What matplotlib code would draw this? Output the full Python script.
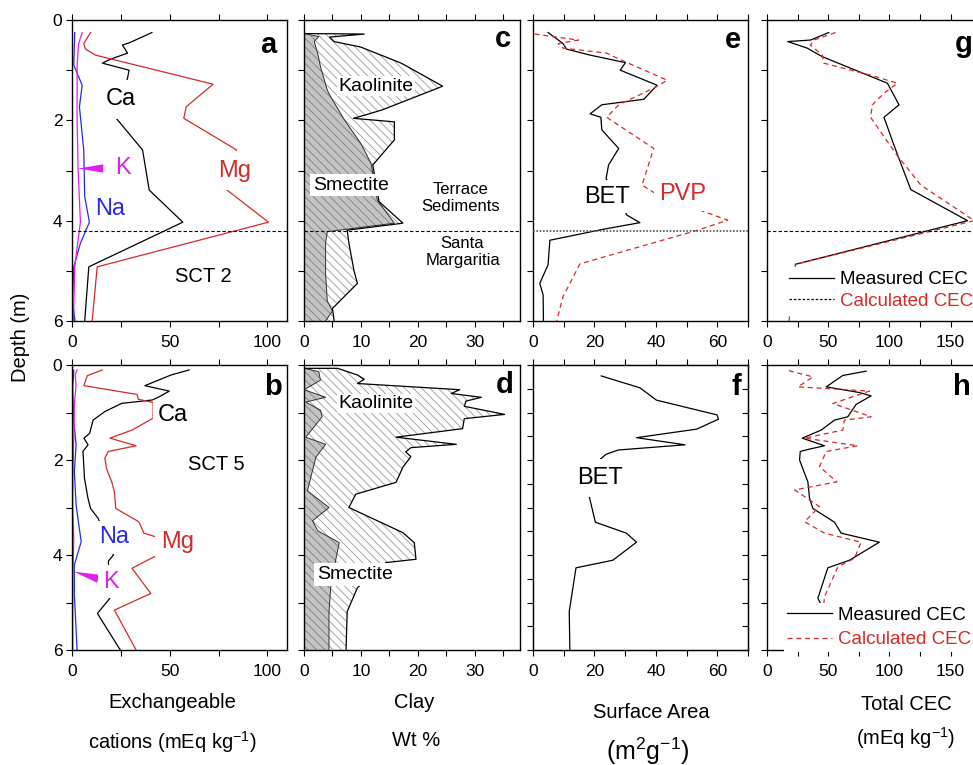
import numpy as np
import matplotlib.pyplot as plt
from matplotlib.ticker import MultipleLocator, FuncFormatter

plt.rcParams['font.family'] = ['Liberation Sans', 'DejaVu Sans']
plt.rcParams['mathtext.default'] = 'regular'
plt.rcParams['hatch.linewidth'] = 0.6

RED = '#d42a2a'
BLUE = '#2a2ae6'
MAG = '#dd22ee'

# ---- exchangeable cations, SCT 2 (depth m, mEq/kg)
a_ca_d = [0.25, 0.45, 0.50, 0.66, 0.78, 0.86, 1.00, 1.16, 1.93, 2.59, 3.39, 4.03, 4.92, 6.00]
a_ca_v = [40.9, 29.6, 25.8, 28.4, 19.8, 15.5, 29.2, 28.4, 22.0, 36.1, 39.5, 56.7, 8.6, 6.5]
a_mg_d = [0.25, 0.47, 0.58, 0.70, 1.28, 1.73, 1.96, 2.59, 3.38, 4.03, 4.92, 6.00]
a_mg_v = [9.5, 6.0, 6.9, 12.0, 72.2, 58.4, 57.2, 84.2, 79.0, 100.5, 12.9, 10.3]
a_na_d = [0.25, 0.90, 1.30, 1.73, 2.59, 3.52, 4.03, 4.45, 4.92, 5.58, 6.00]
a_na_v = [1.4, 0.9, 5.2, 3.8, 6.0, 6.5, 8.9, 4.3, 0.9, 0.3, 1.5]
a_k_d = [0.25, 0.47, 0.90, 2.00, 2.96, 4.03, 4.92, 6.00]
a_k_v = [5.2, 3.4, 2.6, 2.6, 3.1, 4.3, 1.4, 0.7]

# ---- exchangeable cations, SCT 5
b_ca_d = [0.105, 0.21, 0.435, 0.55, 0.66, 0.737, 0.807, 0.98, 1.16, 1.44, 1.54, 1.68, 1.82,
          2.39, 2.81, 3.02, 3.23, 4.00, 4.13, 4.91, 5.23, 6.00]
b_ca_v = [59.9, 50.7, 37.3, 49.8, 45.0, 41.1, 25.5, 16.8, 10.8, 9.0, 6.1, 8.2, 5.6,
          6.4, 8.2, 9.5, 13.4, 21.2, 18.6, 19.4, 13.0, 24.7]
b_mg_d = [0.105, 0.225, 0.435, 0.62, 0.72, 0.79, 1.12, 1.37, 1.54, 1.70, 1.82, 1.96, 2.18,
          2.46, 2.67, 3.02, 3.30, 3.54, 3.63, 4.00, 4.28, 4.81, 5.16, 6.00]
b_mg_v = [15.5, 7.8, 6.1, 33.3, 33.9, 41.5, 41.5, 30.7, 19.4, 32.8, 18.6, 16.8, 17.7,
          20.3, 21.7, 22.4, 34.2, 36.8, 43.8, 43.8, 30.7, 40.3, 21.7, 32.8]
b_na_d = [0.105, 0.49, 1.19, 1.68, 2.25, 2.95, 3.72, 4.21, 4.84, 6.00]
b_na_v = [0.9, 0.35, 0.9, 2.1, 1.2, 2.1, 4.7, 1.2, 1.2, 2.6]
b_k_d = [0.105, 0.21, 0.42, 0.84, 1.54, 2.25, 2.95, 3.65, 4.35, 5.05, 6.00]
b_k_v = [2.6, 1.6, 2.1, 1.2, 0.9, 0.5, 0.35, 0.9, 0.5, 0.35, 0.35]

# ---- clay wt %, SCT 2 (smectite and smectite + kaolinite)
c_sm_d = [0.27, 0.33, 0.43, 0.66, 0.93, 1.40, 1.53, 1.99, 2.46, 2.86, 3.59, 4.05, 4.22,
          4.45, 5.05, 5.60, 5.80, 6.00]
c_sm_v = [0.0, 2.6, 1.8, 2.4, 2.9, 4.1, 4.7, 7.1, 10.0, 11.8, 12.9, 15.9, 4.1,
          3.8, 3.8, 4.1, 5.0, 3.8]
c_tot_d = [0.27, 0.28, 0.34, 0.43, 0.54, 0.86, 1.32, 1.79, 1.89, 1.96, 2.03, 2.39, 2.89,
           3.62, 4.05, 4.19, 4.45, 5.00, 5.25, 5.75, 6.00]
c_tot_v = [0.0, 10.6, 4.5, 5.3, 10.0, 17.1, 24.4, 13.8, 10.9, 8.7, 15.9, 15.9, 12.1,
           13.2, 17.4, 7.6, 7.9, 8.8, 9.4, 5.0, 5.3]

# ---- clay wt %, SCT 5
d_sm_d = [0.07, 0.14, 0.32, 0.52, 0.68, 0.78, 0.95, 1.09, 1.52, 1.67, 1.94, 2.22, 2.65,
          3.00, 3.28, 3.49, 3.74, 4.09, 4.69, 5.19, 6.00]
d_sm_v = [0.0, 2.6, 2.9, 0.0, 3.8, 0.3, 2.9, 3.2, 0.3, 3.8, 2.1, 1.5, 0.6,
          4.4, 1.5, 2.4, 6.2, 5.6, 4.7, 4.4, 4.4]
d_tot_d = [0.07, 0.07, 0.21, 0.30, 0.39, 0.52, 0.60, 0.68, 0.76, 0.87, 1.04, 1.13, 1.34,
           1.52, 1.67, 1.74, 1.83, 1.93, 2.15, 2.47, 2.72, 3.00, 3.53, 3.74, 4.09, 4.16,
           4.69, 5.19, 6.00]
d_tot_v = [0.0, 5.9, 9.4, 10.6, 9.4, 27.4, 25.9, 31.2, 28.5, 28.2, 35.3, 28.2, 27.9,
           16.2, 26.8, 18.8, 17.9, 18.8, 17.4, 16.2, 9.1, 7.9, 17.4, 19.4, 19.7, 14.4,
           9.4, 7.6, 7.4]

# ---- surface area (m2/g)
e_bet_d = [0.25, 0.47, 0.58, 0.70, 0.85, 1.00, 1.30, 1.58, 1.69, 1.87, 1.94, 2.19, 2.56,
           2.89, 3.16, 3.89, 4.04, 4.17, 4.39, 4.88, 5.25, 5.48, 6.00]
e_bet_v = [4.9, 9.8, 10.9, 18.6, 30.1, 28.4, 40.4, 36.1, 22.4, 18.6, 22.1, 22.4, 27.9,
           24.6, 23.8, 30.6, 34.8, 23.0, 5.5, 4.9, 2.2, 3.3, 3.4]
e_pvp_d = [0.28, 0.40, 0.47, 0.56, 0.66, 0.76, 1.20, 1.34, 1.69, 1.94, 2.56, 3.29, 3.46,
           3.82, 3.99, 4.19, 4.86, 5.51, 6.00]
e_pvp_v = [0.5, 14.8, 8.2, 9.8, 24.0, 27.3, 43.7, 39.9, 27.9, 24.0, 39.3, 35.5, 39.9,
           55.7, 63.4, 53.6, 15.3, 9.8, 7.7]
f_bet_d = [0.23, 0.48, 0.74, 1.05, 1.14, 1.35, 1.53, 1.68, 1.79, 1.88, 2.00, 2.79, 3.31,
           3.54, 3.73, 4.11, 4.27, 5.19, 6.00]
f_bet_v = [22.2, 34.8, 40.2, 59.9, 60.4, 53.3, 33.7, 49.5, 27.7, 23.8, 21.6, 18.4, 20.3,
           30.4, 33.7, 26.0, 14.0, 11.8, 12.0]

# ---- total CEC (mEq/kg)
g_meas_d = [0.25, 0.40, 0.43, 0.56, 0.73, 1.26, 1.69, 1.94, 2.59, 3.38, 4.00, 4.87]
g_meas_v = [50.5, 35.5, 16.9, 32.8, 45.1, 98.4, 107.9, 95.6, 105.2, 117.5, 163.9, 23.2]
g_calc_d = [0.25, 0.40, 0.50, 0.70, 0.86, 1.10, 1.26, 1.46, 1.69, 1.94, 2.66, 3.29, 4.00,
            4.87, 6.00]
g_calc_v = [56.0, 38.3, 35.5, 45.1, 46.4, 84.7, 106.6, 95.6, 86.1, 84.7, 105.2, 125.7, 169.4,
            23.2, 18.0]
h_meas_d = [0.13, 0.22, 0.46, 0.58, 0.65, 0.83, 1.09, 1.16, 1.37, 1.54, 1.70, 1.77, 1.82,
            2.00, 2.46, 2.81, 3.02, 3.31, 3.54, 3.73, 4.11, 4.27, 4.91, 6.00]
h_meas_v = [81.0, 62.0, 48.4, 75.5, 85.1, 72.8, 66.0, 55.2, 44.3, 28.8, 47.0, 34.8, 27.2,
            26.6, 33.4, 34.8, 37.5, 55.2, 60.6, 91.8, 67.4, 49.7, 41.6, 62.5]
h_calc_d = [0.12, 0.25, 0.46, 0.55, 0.81, 1.09, 1.16, 1.37, 1.54, 1.70, 1.82, 2.14, 2.46,
            2.63, 2.98, 3.30, 3.54, 3.73, 4.07, 4.25, 4.88, 6.00]
h_calc_v = [17.9, 37.5, 25.3, 83.7, 53.8, 85.1, 63.3, 62.0, 30.7, 74.2, 48.4, 42.9, 57.1,
            22.6, 42.9, 30.7, 47.0, 76.9, 71.5, 57.9, 47.0, 42.9]

BOUNDARY = 4.2  # terrace sediments / Santa Margarita contact

W, H = 973, 765
fig = plt.figure(figsize=(W / 100, H / 100), dpi=100)


def add(cx, ry):
    x0, x1 = cx
    y0, y1 = ry
    return fig.add_axes([x0 / W, 1 - y1 / H, (x1 - x0) / W, (y1 - y0) / H])


def style(ax, xmax, major, minor, ylab=False):
    ax.set_xlim(0, xmax)
    ax.set_ylim(6, 0)
    ax.xaxis.set_major_locator(MultipleLocator(major))
    ax.xaxis.set_minor_locator(MultipleLocator(minor))
    ax.yaxis.set_major_locator(MultipleLocator(1))
    ax.yaxis.set_major_formatter(FuncFormatter(lambda v, p: '%d' % v if v % 2 == 0 else ''))
    ax.tick_params(which='both', top=True, direction='out', width=0.8, length=4,
                   labelsize=12.5, pad=3)
    ax.tick_params(axis='x', pad=6)
    if not ylab:
        ax.tick_params(labelleft=False)
    for s in ax.spines.values():
        s.set_linewidth(1.0)


def tag(ax, x, y, s, **kw):
    ax.text(x, y, s, ha='center', va='center', zorder=6, **kw)


def boxed(ax, x, y, s, size=17, color='k', pad=3):
    ax.text(x, y, s, ha='center', va='center', fontsize=size, color=color, zorder=5,
            bbox=dict(facecolor='white', edgecolor='none', pad=pad))


cols = [(72, 287), (304, 520), (533, 748), (767, 975)]
rows = [(20, 321), (365, 650)]

ax_a = add(cols[0], rows[0]); ax_b = add(cols[0], rows[1])
ax_c = add(cols[1], rows[0]); ax_d = add(cols[1], rows[1])
ax_e = add(cols[2], rows[0]); ax_f = add(cols[2], rows[1])
ax_g = add(cols[3], rows[0]); ax_h = add(cols[3], rows[1])

lw = 0.9
dash = (0, (4, 3))

# cations
for ax, ca, mg, na, k in [(ax_a, (a_ca_v, a_ca_d), (a_mg_v, a_mg_d), (a_na_v, a_na_d), (a_k_v, a_k_d)),
                          (ax_b, (b_ca_v, b_ca_d), (b_mg_v, b_mg_d), (b_na_v, b_na_d), (b_k_v, b_k_d))]:
    ax.plot(*ca, color='k', lw=lw)
    ax.plot(*mg, color=RED, lw=lw)
    ax.plot(*na, color=BLUE, lw=lw)
    ax.plot(*k, color=MAG, lw=lw)
    style(ax, 110, 50, 25, ylab=True)

ax_a.axhline(BOUNDARY, color='k', lw=0.8, ls=(0, (3, 2)), zorder=4)
boxed(ax_a, 25, 1.58, 'Ca', pad=6)
boxed(ax_a, 83, 3.0, 'Mg', color=RED, pad=6)
tag(ax_a, 19.3, 3.77, 'Na', fontsize=17, color=BLUE)
tag(ax_a, 26, 2.96, 'K', fontsize=17, color=MAG)
ax_a.annotate('', xy=(3.1, 2.96), xytext=(16, 2.96),
              arrowprops=dict(arrowstyle='wedge,tail_width=0.6', color=MAG, lw=0, shrinkA=0, shrinkB=0))
tag(ax_a, 67, 5.12, 'SCT 2', fontsize=14.5)
tag(ax_a, 100.5, 0.5, 'a', fontsize=21, fontweight='bold')

boxed(ax_b, 51.5, 1.05, 'Ca', pad=3)
boxed(ax_b, 21.7, 3.63, 'Na', color=BLUE, pad=4)
boxed(ax_b, 54, 3.73, 'Mg', color=RED, pad=4)
boxed(ax_b, 20, 4.56, 'K', color=MAG, pad=4)
ax_b.annotate('', xy=(0.9, 4.35), xytext=(13.4, 4.5),
              arrowprops=dict(arrowstyle='wedge,tail_width=0.6', color=MAG, lw=0, shrinkA=0, shrinkB=0))
tag(ax_b, 74, 2.09, 'SCT 5', fontsize=14.5)
tag(ax_b, 103, 0.46, 'b', fontsize=21, fontweight='bold')

# clay mineralogy
HATCH = '\\\\\\\\'
for ax, sm, tot in [(ax_c, (c_sm_v, c_sm_d), (c_tot_v, c_tot_d)),
                    (ax_d, (d_sm_v, d_sm_d), (d_tot_v, d_tot_d))]:
    sv, sd = sm
    tv, td = tot
    ax.fill(np.concatenate([tv, sv[::-1]]), np.concatenate([td, sd[::-1]]),
            facecolor='white', edgecolor='#9a9a9a', hatch=HATCH, lw=0, zorder=1)
    ax.fill_betweenx(sd, 0, sv, facecolor='#c4c4c4', edgecolor='#808080',
                     hatch=HATCH, lw=0, zorder=2)
    ax.plot(sv, sd, color='#303030', lw=0.7, zorder=3)
    ax.plot(tv, td, color='k', lw=lw, zorder=3)
    style(ax, 38, 10, 5)

ax_c.axhline(BOUNDARY, color='k', lw=0.8, ls=(0, (3, 2)), zorder=4)
boxed(ax_c, 12.6, 1.32, 'Kaolinite', size=14, pad=1)
boxed(ax_c, 8.2, 3.29, 'Smectite', size=14, pad=2)
tag(ax_c, 27.6, 3.55, 'Terrace\nSediments', fontsize=12, linespacing=1.2)
tag(ax_c, 27.9, 4.63, 'Santa\nMargaritia', fontsize=12, linespacing=1.2)
tag(ax_c, 35.0, 0.37, 'c', fontsize=21, fontweight='bold')

boxed(ax_d, 12.7, 0.81, 'Kaolinite', size=14, pad=1)
boxed(ax_d, 8.9, 4.41, 'Smectite', size=14, pad=2)
tag(ax_d, 35.3, 0.42, 'd', fontsize=21, fontweight='bold')

# surface area
ax_e.plot(e_bet_v, e_bet_d, color='k', lw=lw)
ax_e.plot(e_pvp_v, e_pvp_d, color=RED, lw=lw, ls=dash)
ax_e.axhline(BOUNDARY, color='#555555', lw=1.2, ls=(0, (1, 1)), zorder=4)
boxed(ax_e, 24.2, 3.52, 'BET', pad=4)
boxed(ax_e, 48.8, 3.47, 'PVP', color=RED, pad=4)
tag(ax_e, 65.1, 0.4, 'e', fontsize=21, fontweight='bold')
style(ax_e, 70, 20, 10)

ax_f.plot(f_bet_v, f_bet_d, color='k', lw=lw)
boxed(ax_f, 21.8, 2.38, 'BET', pad=6)
tag(ax_f, 66.2, 0.46, 'f', fontsize=21, fontweight='bold')
style(ax_f, 70, 20, 10)
ax_f.yaxis.set_minor_locator(MultipleLocator(0.5))
ax_f.tick_params(which='minor', length=4)
# inward ticks on the right edge of f
f_right = ax_f.twinx()
f_right.set_ylim(6, 0)
f_right.yaxis.set_major_locator(MultipleLocator(0.5))
f_right.tick_params(direction='in', length=4, width=0.8, labelright=False)

# total CEC
for ax, meas, calc, pos, spacing, calc_handle in [
        (ax_g, (g_meas_v, g_meas_d), (g_calc_v, g_calc_d), (0.09, 0.178), 0.22,
         dict(color='k', ls=(0, (2, 1.5)))),
        (ax_h, (h_meas_v, h_meas_d), (h_calc_v, h_calc_d), (0.08, 0.165), 0.38,
         dict(color=RED, ls=dash))]:
    ax.plot(*meas, color='k', lw=lw, label='Measured CEC')
    ax.plot(*calc, color=RED, lw=lw, ls=dash)
    hl, = ax.plot([], [], lw=lw, label='Calculated CEC', **calc_handle)
    leg = ax.legend(loc='upper left', bbox_to_anchor=pos, fontsize=13.5, frameon=True,
                    facecolor='white', edgecolor='none', framealpha=1, fancybox=False,
                    borderpad=0.2, borderaxespad=0, handlelength=2.4, handletextpad=0.3,
                    labelspacing=spacing)
    leg.get_texts()[1].set_color(RED)
    leg.set_zorder(5)
    style(ax, 170, 50, 25)

ax_g.axhline(BOUNDARY, color='k', lw=0.8, ls=(0, (3, 2)), zorder=4)
tag(ax_g, 161, 0.47, 'g', fontsize=21, fontweight='bold')
tag(ax_h, 159.6, 0.46, 'h', fontsize=21, fontweight='bold')

# column titles under the bottom row
def ftext(x, y, s, size=14.5):
    fig.text(x / W, 1 - y / H, s, ha='center', va='center', fontsize=size)

ftext(172, 703, 'Exchangeable')
ftext(172, 742, 'cations (mEq kg$^{-1}$)')
ftext(414, 703, 'Clay')
ftext(416, 740, 'Wt %')
ftext(651, 713, 'Surface Area')
ftext(648, 751, '(m$^2$g$^{-1}$)', size=18)
ftext(906, 705, 'Total CEC')
ftext(906, 738, '(mEq kg$^{-1}$)')
fig.text(21 / W, 1 - 337 / H, 'Depth (m)', rotation=90, ha='center', va='center', fontsize=14.5)

fig.savefig('out.png', dpi=100)
